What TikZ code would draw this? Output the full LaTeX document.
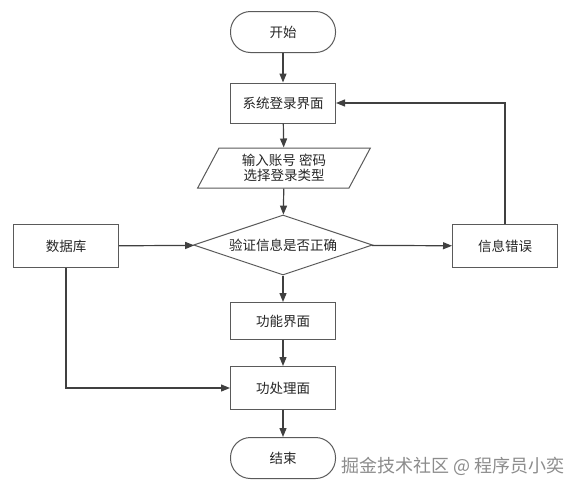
\documentclass[tikz,border=0pt]{standalone}
\usepackage{fontspec}
\setmainfont{Noto Sans CJK SC}
\usetikzlibrary{shapes.geometric,arrows.meta}
\definecolor{linec}{HTML}{404040}
\definecolor{boxc}{HTML}{5A5A5A}
\tikzset{
  every node/.style={font=\fontsize{13.5}{17}\selectfont, text=black!85},
  box/.style={draw=boxc, line width=1pt, minimum width=105pt, minimum height=40pt, inner sep=0pt},
  term/.style={box, rounded corners=20pt, minimum height=41pt},
  io/.style={draw=boxc, line width=1pt, trapezium, trapezium left angle=63.4, trapezium right angle=116.6, trapezium stretches=true, minimum width=173pt, minimum height=40pt, inner sep=0pt, align=center},
  dec/.style={draw=boxc, line width=1pt, diamond, aspect=3, minimum width=179pt, minimum height=60pt, inner sep=0pt},
  conn/.style={draw=linec, line width=1.2pt, -{Triangle[length=9pt,width=7pt]}},
  wm/.style={font=\fontsize{18}{20}\selectfont, text=black!45, inner sep=0pt}
}
\begin{document}
\begin{tikzpicture}[x=1pt,y=-1pt]
\useasboundingbox (0,0) rectangle (569,496);
\fill[white] (0,0) rectangle (569,496);
\node[term] (start) at (283,32) {开始};
\node[box] (login) at (283,103) {系统登录界面};
\node[io] (input) at (284,168) {输入账号 密码\\[-2pt]选择登录类型};
\node[dec] (check) at (283,245) {验证信息是否正确};
\node[box, minimum height=43pt] (db) at (66,246) {数据库};
\node[box, minimum height=43pt] (err) at (505,246) {信息错误};
\node[box, minimum height=37pt] (func) at (283,321) {功能界面};
\node[box, minimum height=43pt] (proc) at (283,388) {功处理面};
\node[term] (end) at (283,458) {结束};
\node[wm, anchor=east] (mark) at (565,466) {掘金技术社区 @ 程序员小奕};
\draw[conn] (start) -- (login);
\draw[conn] (login) -- (input);
\draw[conn] (input) -- (check);
\draw[conn] (db) -- (check);
\draw[conn] (check) -- (err);
\draw[conn] (err.north) |- (login.east);
\draw[conn] (check) -- (func);
\draw[conn] (func) -- (proc);
\draw[conn] (db.south) |- (proc.west);
\draw[conn] (proc) -- (end);
\end{tikzpicture}
\end{document}
